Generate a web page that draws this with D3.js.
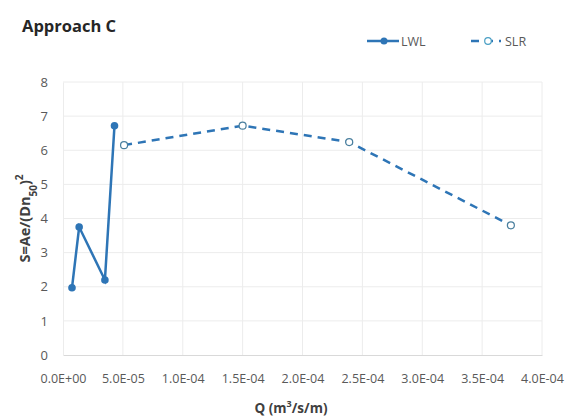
<!DOCTYPE html>
<html>
<head>
<meta charset="utf-8">
<script src="https://cdn.jsdelivr.net/npm/d3@7"></script>
<style>
  body { margin: 0; background: #fff; }
  text { font-family: "Open Sans", sans-serif; }
</style>
</head>
<body>
<div id="chart"></div>
<script>
const width = 566;
const height = 419;

// Data
const lwlQ = [7.5e-6, 1.35e-5, 3.5e-5, 4.3e-5];
const lwlS = [1.97, 3.75, 2.2, 6.72];
const slrQ = [5.1e-5, 1.5e-4, 2.39e-4, 3.74e-4];
const slrS = [6.15, 6.72, 6.24, 3.8];
const xTicks = [0, 5e-5, 1e-4, 1.5e-4, 2e-4, 2.5e-4, 3e-4, 3.5e-4, 4e-4];
const xTickLabels = ["0.0E+00", "5.0E-05", "1.0E-04", "1.5E-04", "2.0E-04", "2.5E-04", "3.0E-04", "3.5E-04", "4.0E-04"];
const yTicks = [0, 1, 2, 3, 4, 5, 6, 7, 8];

const blue = "#2e75b6";
const plot = { left: 63, right: 542, top: 82, bottom: 355 };

const svg = d3.select("#chart").append("svg").attr("width", width).attr("height", height);

const x = d3.scaleLinear().domain([0, 4e-4]).range([plot.left, plot.right]);
const y = d3.scaleLinear().domain([0, 8]).range([plot.bottom, plot.top]);

// gridlines
svg.append("g").selectAll("line").data(yTicks.slice(1)).enter()
    .append("line")
    .attr("x1", plot.left).attr("x2", plot.right)
    .attr("y1", d => y(d)).attr("y2", d => y(d))
    .attr("stroke", "#ececec").attr("stroke-width", 1);
svg.append("g").selectAll("line").data(xTicks.slice(1)).enter()
    .append("line")
    .attr("x1", d => x(d)).attr("x2", d => x(d))
    .attr("y1", plot.top).attr("y2", plot.bottom)
    .attr("stroke", "#ececec").attr("stroke-width", 1);

// axes
const xAxis = svg.append("g")
    .attr("transform", `translate(0,${plot.bottom})`)
    .call(d3.axisBottom(x).tickValues(xTicks).tickSize(0).tickPadding(19)
        .tickFormat((d, i) => xTickLabels[i]));
xAxis.select(".domain").attr("stroke", "#d9d9d9");
xAxis.selectAll("text").attr("fill", "#595959").style("font-size", "12.5px").style("font-family", "Open Sans");

const yAxis = svg.append("g")
    .attr("transform", `translate(${plot.left},0)`)
    .call(d3.axisLeft(y).tickValues(yTicks).tickSize(0).tickPadding(15));
yAxis.select(".domain").attr("stroke", "#ececec");
yAxis.selectAll("text").attr("fill", "#595959").style("font-size", "13px").style("font-family", "Open Sans");

// lines
const line = d3.line().x(d => x(d[0])).y(d => y(d[1]));
const lwl = lwlQ.map((q, i) => [q, lwlS[i]]);
const slr = slrQ.map((q, i) => [q, slrS[i]]);

svg.append("path").datum(slr)
    .attr("d", line).attr("fill", "none")
    .attr("stroke", blue).attr("stroke-width", 2.5)
    .attr("stroke-dasharray", "8,6");
svg.append("path").datum(lwl)
    .attr("d", line).attr("fill", "none")
    .attr("stroke", blue).attr("stroke-width", 2.5);

svg.selectAll(".lwl-dot").data(lwl).enter()
    .append("circle").attr("class", "lwl-dot")
    .attr("cx", d => x(d[0])).attr("cy", d => y(d[1]))
    .attr("r", 3.8).attr("fill", blue);
svg.selectAll(".slr-dot").data(slr).enter()
    .append("circle").attr("class", "slr-dot")
    .attr("cx", d => x(d[0])).attr("cy", d => y(d[1]))
    .attr("r", 3.5).attr("fill", "#fff").attr("stroke", "#4a7f9e").attr("stroke-width", 1.2);

// title
svg.append("text")
    .attr("x", 22).attr("y", 32)
    .attr("font-weight", "bold").attr("fill", "#262626")
    .style("font-size", "16.5px")
    .text("Approach C");

// legend
const lg = svg.append("g");
lg.append("line").attr("x1", 367).attr("x2", 399).attr("y1", 41).attr("y2", 41)
    .attr("stroke", blue).attr("stroke-width", 2.5);
lg.append("circle").attr("cx", 384).attr("cy", 41).attr("r", 3.5).attr("fill", blue);
lg.append("text").attr("x", 401).attr("y", 45.5).attr("fill", "#595959")
    .style("font-size", "12.5px").text("LWL");
lg.append("line").attr("x1", 471).attr("x2", 501).attr("y1", 41).attr("y2", 41)
    .attr("stroke", blue).attr("stroke-width", 2.5).attr("stroke-dasharray", "8,6");
lg.append("circle").attr("cx", 488).attr("cy", 41).attr("r", 3.3)
    .attr("fill", "#fff").attr("stroke", "#4a9fc4").attr("stroke-width", 1.2);
lg.append("text").attr("x", 505).attr("y", 45.5).attr("fill", "#595959")
    .style("font-size", "12.5px").text("SLR");

// axis titles
svg.append("text")
    .attr("x", 291).attr("y", 413)
    .attr("text-anchor", "middle").attr("font-weight", "bold").attr("fill", "#404040")
    .style("font-size", "13.5px")
    .html("Q (m<tspan baseline-shift='super' font-size='9px'>3</tspan>/s/m)");

svg.append("text")
    .attr("transform", `translate(30,${(plot.top + plot.bottom) / 2}) rotate(-90)`)
    .attr("text-anchor", "middle").attr("font-weight", "bold").attr("fill", "#404040")
    .style("font-size", "14.5px")
    .html("S=Ae/(Dn<tspan baseline-shift='sub' font-size='10px'>50</tspan>)<tspan baseline-shift='super' font-size='10px'>2</tspan>");
</script>
</body>
</html>
